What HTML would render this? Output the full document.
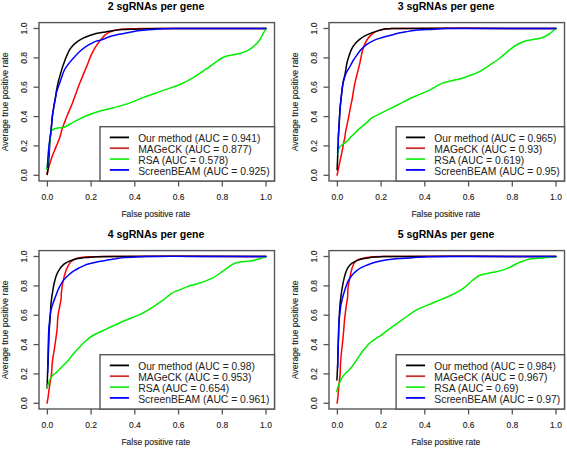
<!DOCTYPE html>
<html><head><meta charset="utf-8"><style>
html,body{margin:0;padding:0;background:#fff;}
svg{display:block;font-family:"Liberation Sans", sans-serif;}
</style></head><body>
<svg width="567" height="450" viewBox="0 0 567 450">
<rect width="567" height="450" fill="#fff"/>
<g transform="translate(0,0)">
<text x="156.0" y="10.2" text-anchor="middle" font-weight="bold" font-size="10.55" fill="#000">2 sgRNAs per gene</text>
<path d="M47.1,173.6 C47.1,173.6 47.7,171.2 48,170 C48.6,167.9 49.2,165.9 49.8,163.8 C50.6,161.1 51.4,158.4 52.4,155.8 C53.5,152.8 54.8,149.9 56,146.9 C57.2,143.9 58.6,141 59.6,138 C60.5,135.4 61,132.6 61.8,130 C62.5,127.6 63.4,125.3 64.3,123 C65.2,120.7 66,118.3 67,116 C68.5,112.4 70.1,108.9 71.6,105.3 C72.4,103.3 73.1,101.2 73.9,99.1 C75,96.1 76,93.2 77.1,90.2 C78.2,87.2 79.3,84.2 80.5,81.3 C81.7,78.3 83,75.4 84.2,72.4 C85.4,69.6 86.6,66.8 87.7,64 C88.6,61.6 89.4,59.2 90.4,56.9 C91.4,54.5 92.5,52.1 93.8,49.8 C94.8,47.9 96.1,46.2 97.3,44.4 C98.4,42.8 99.6,41.2 100.9,39.6 C102,38.2 103.1,36.8 104.4,35.6 C105.5,34.6 106.7,33.6 108,32.9 C109.4,32.1 110.9,31.6 112.4,31.1 C114.2,30.5 116,30.1 117.8,29.8 C119.8,29.4 121.9,29 124,28.9 C129.3,28.6 134.7,28.7 140,28.6 C150,28.5 160,28.5 170,28.4 C202,28.4 266,28.4 266,28.4" fill="none" stroke="#ff0000" stroke-width="1.5" stroke-linejoin="round" stroke-linecap="round"/>
<path d="M47.2,174.5 C47.2,174.5 47.5,172.7 47.6,171.8 C47.8,169.9 48,167.9 48.2,166 C48.5,163 48.8,160 49,157 C49.3,153.5 49.4,150 49.6,146.5 C49.8,143.7 50,140.8 50.2,138 C50.3,136.5 50.5,135.1 50.7,133.6 C51,130.6 51.3,127.7 51.6,124.7 C51.9,121.7 52,118.8 52.4,115.8 C52.8,112.8 53.3,109.9 53.8,106.9 C54.3,104 54.8,101.1 55.3,98.2 C55.8,95.5 56.1,92.7 56.6,90 C57.1,87.4 57.6,84.8 58.2,82.2 C58.8,79.5 59.6,76.9 60.4,74.2 C61.1,71.8 61.8,69.5 62.5,67.1 C63,65.7 63.5,64.3 64,62.9 C64.9,60.5 65.7,58.1 66.7,55.8 C67.5,54 68.3,52.1 69.3,50.4 C70.3,48.7 71.6,47.1 72.9,45.6 C74.2,44.1 75.7,42.8 77.3,41.6 C79,40.4 80.8,39.3 82.7,38.4 C84.7,37.4 86.8,36.6 88.9,35.8 C91.2,35 93.6,34.2 96,33.6 C99.1,32.9 102.2,32.5 105.3,32 C107.7,31.6 110,31.1 112.4,30.7 C114.8,30.3 117.2,30 119.6,29.8 C121.1,29.6 122.5,29.6 124,29.5 C129.3,29.3 134.7,29 140,28.9 C146.7,28.7 153.3,28.6 160,28.6 C195.3,28.5 266,28.4 266,28.4" fill="none" stroke="#000000" stroke-width="1.5" stroke-linejoin="round" stroke-linecap="round"/>
<path d="M46.8,169.2 C46.8,169.2 47.3,167.1 47.4,166 C47.7,163 47.9,160 48.2,157 C48.5,153.3 48.8,149.7 49.2,146 C49.5,143.3 49.9,140.7 50.2,138 C50.5,135.6 51.1,130.9 51.1,130.9 C51.1,130.9 53.4,129.2 54.7,128.7 C56.1,128.2 57.6,128 59.1,127.8 C60.8,127.5 62.6,127.8 64.1,127.2 C67.5,125.8 70.7,123.5 74,121.8 C77.7,119.9 81.4,117.8 85.3,116.2 C89.9,114.3 94.6,112.6 99.4,111.2 C104,109.8 108.8,109 113.5,107.7 C119,106.2 124.6,104.7 130,102.9 C134.2,101.5 138.2,99.5 142.3,97.9 C146.4,96.3 150.6,95 154.7,93.5 C158.8,92 162.9,90.5 167,89.1 C170.5,87.9 174.1,86.9 177.6,85.5 C181,84.1 184.4,82.6 187.6,80.9 C191.2,78.9 194.7,76.6 198.2,74.4 C201.8,72.1 205.2,69.7 208.7,67.3 C211.7,65.2 214.5,62.8 217.6,60.8 C219.8,59.3 222.1,57.8 224.6,56.8 C226.8,55.9 229.3,55.5 231.7,55 C234.6,54.3 237.6,54 240.5,53.2 C242.9,52.5 245.3,51.7 247.5,50.6 C249.4,49.7 251.1,48.4 252.8,47.1 C254.1,46.1 255.3,45 256.4,43.8 C257.4,42.8 258.3,41.8 259.1,40.7 C260.1,39.3 260.9,37.7 261.8,36.2 C262.4,35.1 262.9,33.8 263.6,32.7 C264.3,31.6 265.1,30.5 265.8,29.4 C266,29.1 266.1,28.4 266.1,28.4" fill="none" stroke="#00ee00" stroke-width="1.5" stroke-linejoin="round" stroke-linecap="round"/>
<path d="M47.4,167.3 C47.4,167.3 47.8,160.8 48,157.6 C48.3,154 48.5,150.5 48.9,146.9 C49.2,143.9 49.6,141 50,138 C50.2,136.5 50.5,135.1 50.7,133.6 C51.1,130.6 51.3,127.7 51.6,124.7 C51.9,121.7 52,118.8 52.4,115.8 C52.8,112.8 53.3,109.9 53.8,106.9 C54.3,104.3 54.8,101.6 55.3,99 C55.7,97 55.9,94.9 56.4,92.9 C57,90.5 57.9,88.2 58.7,85.8 C59.4,83.7 60.2,81.7 60.9,79.6 C62.1,76.4 62.9,73 64.4,70 C65.7,67.5 67.5,65.2 69.3,62.9 C71,60.7 72.8,58.7 74.7,56.7 C76.4,54.8 78.1,53 80,51.3 C82,49.5 84,47.9 86.2,46.4 C87.9,45.2 89.8,44.3 91.6,43.3 C93,42.5 94.5,41.6 96,41.1 C97.3,40.6 98.7,40.7 100,40.3 C102.1,39.7 104.1,38.8 106.2,38 C108.3,37.3 110.3,36.4 112.4,35.8 C114.2,35.3 116,35 117.8,34.6 C119.9,34.2 121.9,33.8 124,33.4 C128.6,32.5 133.2,31.3 137.8,30.7 C143.7,29.9 149.7,29.6 155.6,29.2 C161.5,28.8 167.4,28.6 173.3,28.5 C182.2,28.3 191.1,28.4 200,28.4 C222,28.4 266,28.4 266,28.4" fill="none" stroke="#0000ff" stroke-width="1.5" stroke-linejoin="round" stroke-linecap="round"/>
<rect x="39.0" y="22.6" width="235.5" height="158.4" fill="none" stroke="#555555" stroke-width="1.4"/>
<line x1="47.4" y1="181.0" x2="47.4" y2="186.5" stroke="#555555" stroke-width="1.3"/>
<text transform="translate(47.4,200.3) scale(1,1.13)" text-anchor="middle" font-size="8.5" fill="#222222" stroke="#222222" stroke-width="0.12">0.0</text>
<line x1="91.1" y1="181.0" x2="91.1" y2="186.5" stroke="#555555" stroke-width="1.3"/>
<text transform="translate(91.1,200.3) scale(1,1.13)" text-anchor="middle" font-size="8.5" fill="#222222" stroke="#222222" stroke-width="0.12">0.2</text>
<line x1="134.8" y1="181.0" x2="134.8" y2="186.5" stroke="#555555" stroke-width="1.3"/>
<text transform="translate(134.8,200.3) scale(1,1.13)" text-anchor="middle" font-size="8.5" fill="#222222" stroke="#222222" stroke-width="0.12">0.4</text>
<line x1="178.6" y1="181.0" x2="178.6" y2="186.5" stroke="#555555" stroke-width="1.3"/>
<text transform="translate(178.6,200.3) scale(1,1.13)" text-anchor="middle" font-size="8.5" fill="#222222" stroke="#222222" stroke-width="0.12">0.6</text>
<line x1="222.3" y1="181.0" x2="222.3" y2="186.5" stroke="#555555" stroke-width="1.3"/>
<text transform="translate(222.3,200.3) scale(1,1.13)" text-anchor="middle" font-size="8.5" fill="#222222" stroke="#222222" stroke-width="0.12">0.8</text>
<line x1="266.0" y1="181.0" x2="266.0" y2="186.5" stroke="#555555" stroke-width="1.3"/>
<text transform="translate(266.0,200.3) scale(1,1.13)" text-anchor="middle" font-size="8.5" fill="#222222" stroke="#222222" stroke-width="0.12">1.0</text>
<line x1="33.5" y1="175.3" x2="39.0" y2="175.3" stroke="#555555" stroke-width="1.3"/>
<text transform="translate(26.6,175.3) rotate(-90) scale(1,1.13)" x="0" y="0" text-anchor="middle" font-size="8.5" fill="#222222" stroke="#222222" stroke-width="0.12">0.0</text>
<line x1="33.5" y1="145.9" x2="39.0" y2="145.9" stroke="#555555" stroke-width="1.3"/>
<text transform="translate(26.6,145.9) rotate(-90) scale(1,1.13)" x="0" y="0" text-anchor="middle" font-size="8.5" fill="#222222" stroke="#222222" stroke-width="0.12">0.2</text>
<line x1="33.5" y1="116.6" x2="39.0" y2="116.6" stroke="#555555" stroke-width="1.3"/>
<text transform="translate(26.6,116.6) rotate(-90) scale(1,1.13)" x="0" y="0" text-anchor="middle" font-size="8.5" fill="#222222" stroke="#222222" stroke-width="0.12">0.4</text>
<line x1="33.5" y1="87.2" x2="39.0" y2="87.2" stroke="#555555" stroke-width="1.3"/>
<text transform="translate(26.6,87.2) rotate(-90) scale(1,1.13)" x="0" y="0" text-anchor="middle" font-size="8.5" fill="#222222" stroke="#222222" stroke-width="0.12">0.6</text>
<line x1="33.5" y1="57.9" x2="39.0" y2="57.9" stroke="#555555" stroke-width="1.3"/>
<text transform="translate(26.6,57.9) rotate(-90) scale(1,1.13)" x="0" y="0" text-anchor="middle" font-size="8.5" fill="#222222" stroke="#222222" stroke-width="0.12">0.8</text>
<line x1="33.5" y1="28.5" x2="39.0" y2="28.5" stroke="#555555" stroke-width="1.3"/>
<text transform="translate(26.6,28.5) rotate(-90) scale(1,1.13)" x="0" y="0" text-anchor="middle" font-size="8.5" fill="#222222" stroke="#222222" stroke-width="0.12">1.0</text>
<text transform="translate(155.8,216.8) scale(1,1.13)" text-anchor="middle" font-size="8.5" fill="#222222" stroke="#222222" stroke-width="0.12">False positive rate</text>
<text transform="translate(8.0,101.9) rotate(-90) scale(1,1.13)" x="0" y="0" text-anchor="middle" font-size="8.7" fill="#222222" stroke="#222222" stroke-width="0.12">Average true positive rate</text>
<rect x="100.0" y="126.7" width="174.5" height="54.3" fill="#fff" stroke="#555555" stroke-width="1.4"/>
<line x1="109.8" y1="137.4" x2="129.0" y2="137.4" stroke="#000000" stroke-width="1.8"/>
<text x="138.2" y="142.1" font-size="10.1" textLength="122.11" lengthAdjust="spacingAndGlyphs" fill="#222222">Our method (AUC = 0.941)</text>
<line x1="109.8" y1="148.2" x2="129.0" y2="148.2" stroke="#c83030" stroke-width="1.8"/>
<text x="138.2" y="152.9" font-size="10.1" textLength="113.53" lengthAdjust="spacingAndGlyphs" fill="#222222">MAGeCK (AUC = 0.877)</text>
<line x1="109.8" y1="159.1" x2="129.0" y2="159.1" stroke="#22ee22" stroke-width="1.8"/>
<text x="138.2" y="163.8" font-size="10.1" textLength="90.01" lengthAdjust="spacingAndGlyphs" fill="#222222">RSA (AUC = 0.578)</text>
<line x1="109.8" y1="169.9" x2="129.0" y2="169.9" stroke="#0000ff" stroke-width="1.8"/>
<text x="138.2" y="174.6" font-size="10.1" textLength="131.4" lengthAdjust="spacingAndGlyphs" fill="#222222">ScreenBEAM (AUC = 0.925)</text>
</g>
<g transform="translate(290,0)">
<text x="156.0" y="10.2" text-anchor="middle" font-weight="bold" font-size="10.55" fill="#000">3 sgRNAs per gene</text>
<path d="M47.1,175.1 C47.1,175.1 48,171 48.4,168.9 C48.9,166.5 49.3,164.2 49.8,161.8 C50.4,159.1 51,156.5 51.6,153.8 C52.2,150.8 52.7,147.9 53.3,144.9 C53.8,142.3 54.4,139.6 54.9,137 C55.2,135.3 55.3,133.5 55.6,131.8 C56,129.7 56.5,127.7 56.9,125.6 C57.3,123.5 57.8,121.4 58.2,119.3 C58.7,116.9 59.1,114.6 59.6,112.2 C60,109.8 60.4,107.5 60.9,105.1 C61.3,103.1 61.8,101 62.2,99 C62.5,97.3 62.7,95.5 63,93.8 C63.3,91.7 63.6,89.7 64,87.6 C64.4,85.5 64.8,83.4 65.3,81.3 C65.9,78.9 66.5,76.6 67.1,74.2 C67.7,71.8 68.3,69.5 68.9,67.1 C69.5,64.7 70,62.4 70.5,60 C71.2,56.9 71.6,53.7 72.4,50.7 C73,48.5 73.8,46.5 74.7,44.4 C75.3,42.9 76,41.4 76.9,40 C77.9,38.4 79.1,36.9 80.4,35.6 C81.5,34.5 82.7,33.5 84,32.7 C85.6,31.7 87.5,31 89.3,30.4 C91.1,29.8 92.9,29.2 94.7,28.9 C97,28.6 99.4,28.7 101.8,28.6 C104.8,28.5 107.7,28.4 110.7,28.4 C162.5,28.3 266,28.4 266,28.4" fill="none" stroke="#ff0000" stroke-width="1.5" stroke-linejoin="round" stroke-linecap="round"/>
<path d="M47.1,169.8 C47.1,169.8 47.4,163.9 47.5,161 C47.6,158.3 47.7,155.6 47.8,152.9 C47.9,150.2 48.1,147.6 48.2,144.9 C48.3,141.9 48.3,139 48.4,136 C48.6,132.2 48.9,128.5 49.1,124.7 C49.3,121.7 49.4,118.8 49.6,115.8 C49.8,112.8 50,109.9 50.2,106.9 C50.4,104.6 50.7,102.3 50.9,100 C51.1,97.9 51.4,95.9 51.6,93.8 C51.9,91.4 52.1,89.1 52.4,86.7 C52.7,84.6 53.1,82.5 53.5,80.4 C53.9,78.4 54.6,76.5 55,74.5 C55.5,72 55.8,69.5 56.2,67 C56.5,65.3 56.8,63.6 57.2,62 C57.7,60 58.3,58.1 58.9,56.2 C59.7,53.8 60.5,51.4 61.6,49.1 C62.5,47.2 63.8,45.4 65.1,43.8 C66.4,42.2 68,40.6 69.6,39.3 C71.2,38 73,36.8 74.9,35.8 C76.9,34.7 79,33.9 81.1,33.1 C83.1,32.3 85.2,31.5 87.3,30.9 C89.7,30.1 92.2,29.3 94.7,28.9 C97,28.5 99.4,28.7 101.8,28.6 C104.8,28.5 107.7,28.4 110.7,28.4 C162.5,28.3 266,28.4 266,28.4" fill="none" stroke="#000000" stroke-width="1.5" stroke-linejoin="round" stroke-linecap="round"/>
<path d="M47.6,153.5 C47.6,153.5 47.9,152.5 48,152 C48.3,150.7 48.3,149.1 49,148 C49.8,146.7 51.1,145.7 52.3,144.7 C54,143.2 56.1,142.1 57.8,140.6 C58.7,139.8 59.2,138.7 60,137.8 C61.3,136.5 62.7,135.3 64,134 C65.5,132.5 66.9,130.8 68.5,129.4 C70.7,127.4 73.2,125.6 75.5,123.7 C77.9,121.6 80,119.2 82.6,117.4 C84.7,115.9 87.3,115.1 89.6,113.9 C92.9,112.2 96.2,110.6 99.5,108.9 C102.8,107.3 106.1,105.7 109.4,104 C113.1,102.1 116.8,100.1 120.6,98.3 C123.8,96.8 127.2,95.5 130.5,94.1 C133.7,92.7 136.9,91.4 140,89.9 C144.4,87.7 148.4,84.8 152.9,82.9 C155.7,81.7 158.8,81.5 161.7,80.8 C165.2,79.9 168.8,79.2 172.3,78.2 C175.3,77.3 178.2,76.1 181.1,75 C183.6,74.1 186.2,73.3 188.5,72.1 C191.9,70.4 195,68.2 198.2,66.1 C201.7,63.8 205.3,61.5 208.7,59 C212.4,56.2 215.7,53 219.3,50.2 C222.1,48 225,45.7 228.1,44 C230.9,42.5 233.9,41.3 237,40.5 C239.8,39.7 242.9,39.7 245.8,39.1 C248.2,38.7 250.6,38.4 252.8,37.5 C255.3,36.5 257.6,35 259.9,33.5 C261.2,32.6 262.3,31.5 263.5,30.5 C264.3,29.8 266,28.4 266,28.4" fill="none" stroke="#00ee00" stroke-width="1.5" stroke-linejoin="round" stroke-linecap="round"/>
<path d="M47.6,152.9 C47.6,152.9 48.1,147.6 48.2,144.9 C48.3,141.9 48.3,139 48.4,136 C48.6,132.2 48.9,128.5 49.1,124.7 C49.3,121.7 49.4,118.8 49.6,115.8 C49.8,112.8 50,109.9 50.2,106.9 C50.4,104.6 50.7,102.3 50.9,100 C51.1,97.9 51.4,95.9 51.6,93.8 C51.9,91.7 52.1,89.7 52.4,87.6 C52.7,85.8 52.9,84 53.3,82.2 C53.7,80.4 54.1,78.6 54.7,76.9 C55.2,75.4 55.7,73.8 56.4,72.4 C57.5,70.2 59,68.2 60.2,66 C61.2,64.2 62.1,62.3 63.2,60.5 C63.9,59.3 64.8,58.1 65.6,56.9 C67.3,54.5 68.9,52 70.8,49.8 C72.6,47.8 74.6,46 76.8,44.4 C79,42.8 81.5,41.6 84,40.4 C85.7,39.6 87.5,39 89.3,38.4 C91.1,37.8 92.9,37.2 94.7,36.7 C97.1,36 99.4,35.5 101.8,34.9 C104.2,34.3 106.5,33.6 108.9,33.1 C111.2,32.6 113.6,32.2 116,31.8 C118.7,31.3 121.3,30.7 124,30.4 C128.6,29.9 133.2,29.9 137.8,29.6 C143.7,29.3 149.7,28.7 155.6,28.6 C170.4,28.3 185.2,28.4 200,28.4 C222,28.4 266,28.4 266,28.4" fill="none" stroke="#0000ff" stroke-width="1.5" stroke-linejoin="round" stroke-linecap="round"/>
<rect x="39.0" y="22.6" width="235.5" height="158.4" fill="none" stroke="#555555" stroke-width="1.4"/>
<line x1="47.4" y1="181.0" x2="47.4" y2="186.5" stroke="#555555" stroke-width="1.3"/>
<text transform="translate(47.4,200.3) scale(1,1.13)" text-anchor="middle" font-size="8.5" fill="#222222" stroke="#222222" stroke-width="0.12">0.0</text>
<line x1="91.1" y1="181.0" x2="91.1" y2="186.5" stroke="#555555" stroke-width="1.3"/>
<text transform="translate(91.1,200.3) scale(1,1.13)" text-anchor="middle" font-size="8.5" fill="#222222" stroke="#222222" stroke-width="0.12">0.2</text>
<line x1="134.8" y1="181.0" x2="134.8" y2="186.5" stroke="#555555" stroke-width="1.3"/>
<text transform="translate(134.8,200.3) scale(1,1.13)" text-anchor="middle" font-size="8.5" fill="#222222" stroke="#222222" stroke-width="0.12">0.4</text>
<line x1="178.6" y1="181.0" x2="178.6" y2="186.5" stroke="#555555" stroke-width="1.3"/>
<text transform="translate(178.6,200.3) scale(1,1.13)" text-anchor="middle" font-size="8.5" fill="#222222" stroke="#222222" stroke-width="0.12">0.6</text>
<line x1="222.3" y1="181.0" x2="222.3" y2="186.5" stroke="#555555" stroke-width="1.3"/>
<text transform="translate(222.3,200.3) scale(1,1.13)" text-anchor="middle" font-size="8.5" fill="#222222" stroke="#222222" stroke-width="0.12">0.8</text>
<line x1="266.0" y1="181.0" x2="266.0" y2="186.5" stroke="#555555" stroke-width="1.3"/>
<text transform="translate(266.0,200.3) scale(1,1.13)" text-anchor="middle" font-size="8.5" fill="#222222" stroke="#222222" stroke-width="0.12">1.0</text>
<line x1="33.5" y1="175.3" x2="39.0" y2="175.3" stroke="#555555" stroke-width="1.3"/>
<text transform="translate(26.6,175.3) rotate(-90) scale(1,1.13)" x="0" y="0" text-anchor="middle" font-size="8.5" fill="#222222" stroke="#222222" stroke-width="0.12">0.0</text>
<line x1="33.5" y1="145.9" x2="39.0" y2="145.9" stroke="#555555" stroke-width="1.3"/>
<text transform="translate(26.6,145.9) rotate(-90) scale(1,1.13)" x="0" y="0" text-anchor="middle" font-size="8.5" fill="#222222" stroke="#222222" stroke-width="0.12">0.2</text>
<line x1="33.5" y1="116.6" x2="39.0" y2="116.6" stroke="#555555" stroke-width="1.3"/>
<text transform="translate(26.6,116.6) rotate(-90) scale(1,1.13)" x="0" y="0" text-anchor="middle" font-size="8.5" fill="#222222" stroke="#222222" stroke-width="0.12">0.4</text>
<line x1="33.5" y1="87.2" x2="39.0" y2="87.2" stroke="#555555" stroke-width="1.3"/>
<text transform="translate(26.6,87.2) rotate(-90) scale(1,1.13)" x="0" y="0" text-anchor="middle" font-size="8.5" fill="#222222" stroke="#222222" stroke-width="0.12">0.6</text>
<line x1="33.5" y1="57.9" x2="39.0" y2="57.9" stroke="#555555" stroke-width="1.3"/>
<text transform="translate(26.6,57.9) rotate(-90) scale(1,1.13)" x="0" y="0" text-anchor="middle" font-size="8.5" fill="#222222" stroke="#222222" stroke-width="0.12">0.8</text>
<line x1="33.5" y1="28.5" x2="39.0" y2="28.5" stroke="#555555" stroke-width="1.3"/>
<text transform="translate(26.6,28.5) rotate(-90) scale(1,1.13)" x="0" y="0" text-anchor="middle" font-size="8.5" fill="#222222" stroke="#222222" stroke-width="0.12">1.0</text>
<text transform="translate(155.8,216.8) scale(1,1.13)" text-anchor="middle" font-size="8.5" fill="#222222" stroke="#222222" stroke-width="0.12">False positive rate</text>
<text transform="translate(8.0,101.9) rotate(-90) scale(1,1.13)" x="0" y="0" text-anchor="middle" font-size="8.7" fill="#222222" stroke="#222222" stroke-width="0.12">Average true positive rate</text>
<rect x="106.1" y="126.7" width="168.4" height="54.3" fill="#fff" stroke="#555555" stroke-width="1.4"/>
<line x1="115.9" y1="137.4" x2="135.1" y2="137.4" stroke="#000000" stroke-width="1.8"/>
<text x="144.3" y="142.1" font-size="10.1" textLength="122.01" lengthAdjust="spacingAndGlyphs" fill="#222222">Our method (AUC = 0.965)</text>
<line x1="115.9" y1="148.2" x2="135.1" y2="148.2" stroke="#c83030" stroke-width="1.8"/>
<text x="144.3" y="152.9" font-size="10.1" textLength="108.02" lengthAdjust="spacingAndGlyphs" fill="#222222">MAGeCK (AUC = 0.93)</text>
<line x1="115.9" y1="159.1" x2="135.1" y2="159.1" stroke="#22ee22" stroke-width="1.8"/>
<text x="144.3" y="163.8" font-size="10.1" textLength="90.01" lengthAdjust="spacingAndGlyphs" fill="#222222">RSA (AUC = 0.619)</text>
<line x1="115.9" y1="169.9" x2="135.1" y2="169.9" stroke="#0000ff" stroke-width="1.8"/>
<text x="144.3" y="174.6" font-size="10.1" textLength="125.38" lengthAdjust="spacingAndGlyphs" fill="#222222">ScreenBEAM (AUC = 0.95)</text>
</g>
<g transform="translate(0,228)">
<text x="156.0" y="10.2" text-anchor="middle" font-weight="bold" font-size="10.55" fill="#000">4 sgRNAs per gene</text>
<path d="M47.1,175.1 C47.1,175.1 47.7,171.6 48,169.8 C48.3,167.4 48.6,165.1 48.9,162.7 C49.3,159.7 49.8,156.8 50.2,153.8 C50.7,150.8 51.3,147.9 51.6,144.9 C51.9,142.3 51.9,139.6 52.1,137 C52.2,135.3 52.4,133.5 52.6,131.8 C52.9,129.4 53.4,127.1 53.8,124.7 C54.3,121.7 54.7,118.8 55.1,115.8 C55.5,112.8 56,109.9 56.4,106.9 C56.7,104.6 57,102.3 57.2,100 C57.4,97.4 57.4,94.8 57.6,92.2 C57.8,89.8 58,87.5 58.4,85.1 C58.8,82.7 59.3,80.4 59.8,78 C60.2,75.6 60.8,73.3 61.1,70.9 C61.3,69.3 61.2,67.6 61.3,66 C61.5,63.3 61.8,60.6 62.2,58 C62.7,55 63.3,52 64,49.1 C64.6,46.7 65.3,44.3 66.2,42 C67.1,39.9 68,37.7 69.3,35.8 C70.2,34.4 71.5,33.1 72.9,32.2 C74.5,31.2 76.3,30.4 78.2,30 C81.4,29.3 84.7,29 88,28.8 C91.1,28.6 94.2,28.8 97.3,28.7 C101.8,28.6 106.2,28.4 110.7,28.4 C162.5,28.3 266,28.4 266,28.4" fill="none" stroke="#ff0000" stroke-width="1.5" stroke-linejoin="round" stroke-linecap="round"/>
<path d="M47.1,160 C47.1,160 47.3,153.3 47.4,150 C47.5,148.3 47.5,146.6 47.6,144.9 C47.7,141.9 47.9,139 48,136 C48.1,132.2 48.3,128.5 48.4,124.7 C48.6,120.2 48.7,115.8 48.9,111.3 C49,108.2 49,105.1 49.2,102 C49.3,99.9 49.5,97.9 49.7,95.8 C49.9,93.4 50,91.1 50.2,88.7 C50.3,86.6 50.5,84.5 50.6,82.4 C50.7,80.3 50.7,78.3 50.9,76.2 C51.1,73.8 51.5,71.5 51.8,69.1 C52,67.4 52.3,65.7 52.6,64 C53.1,61.1 53.5,58.2 54.2,55.3 C54.8,52.6 55.4,49.9 56.4,47.3 C57.2,45.1 58.3,43 59.6,41.1 C60.8,39.3 62.3,37.6 64,36.2 C65.6,34.9 67.4,33.9 69.3,33.1 C71,32.3 72.9,31.8 74.7,31.3 C77,30.7 79.4,30.3 81.8,30 C83.9,29.7 85.9,29.6 88,29.4 C91.1,29.1 94.2,28.8 97.3,28.7 C101.8,28.5 106.2,28.4 110.7,28.4 C162.5,28.3 266,28.4 266,28.4" fill="none" stroke="#000000" stroke-width="1.5" stroke-linejoin="round" stroke-linecap="round"/>
<path d="M47.1,160 C47.1,160 47.9,156.6 48.5,155 C49.1,153.3 49.8,151.6 50.7,150 C51.3,148.9 52.1,147.9 53,147 C53.9,146.1 55.1,145.6 56,144.7 C58.3,142.6 60.5,140.2 62.7,138 C64.5,136.2 66.3,134.6 68,132.7 C69.7,130.8 71.1,128.6 72.7,126.7 C74.6,124.4 76.6,122.2 78.7,120 C80.8,117.7 83,115.4 85.3,113.3 C87.4,111.4 89.6,109.5 92,108 C95.4,105.9 99.1,104.4 102.7,102.7 C104.6,101.8 106.6,100.9 108.5,100 C112.3,98.2 116.1,96.4 120,94.7 C123.5,93.1 127.1,91.7 130.7,90.2 C134.2,88.7 137.9,87.5 141.3,85.8 C145,84 148.5,81.8 152,79.6 C155.6,77.3 159.2,74.9 162.7,72.4 C165.8,70.2 168.5,67.4 171.6,65.3 C173.2,64.2 175.2,63.7 177,62.9 C180.5,61.4 184,59.9 187.6,58.6 C191.1,57.4 194.7,56.7 198.2,55.5 C203,53.9 207.8,52.4 212.3,50.2 C216.1,48.3 219.4,45.6 222.9,43.2 C226.4,40.8 229.7,37.9 233.4,35.8 C235,34.9 236.9,34.6 238.7,34.3 C242.8,33.6 247,33.6 251.1,32.9 C254.1,32.4 257,31.7 259.9,30.8 C261.9,30.2 265.8,28.4 265.8,28.4" fill="none" stroke="#00ee00" stroke-width="1.5" stroke-linejoin="round" stroke-linecap="round"/>
<path d="M47.6,144.4 C47.6,144.4 47.7,140.1 47.8,138 C47.9,133.6 48,129.1 48.1,124.7 C48.2,120.2 48.3,115.8 48.4,111.3 C48.5,107.5 48.7,103.8 48.9,100 C49,98.6 49.2,97.2 49.3,95.8 C49.5,93.4 49.7,91.1 50,88.7 C50.3,86.6 50.5,84.5 50.9,82.4 C51.4,80.3 52,78.2 52.7,76.2 C53.5,73.8 54.4,71.5 55.3,69.1 C56.2,66.7 57,64.3 58,62 C58.6,60.6 59.2,59.1 60,57.8 C61.2,55.7 62.5,53.5 64,51.6 C65.4,49.8 67.2,48.2 68.9,46.7 C70.6,45.2 72.4,43.9 74.2,42.7 C75.9,41.6 77.8,40.6 79.6,39.6 C81,38.9 82.5,38.2 84,37.6 C85.7,36.9 87.5,36.3 89.3,35.8 C91.1,35.3 92.9,34.8 94.7,34.4 C97.1,33.9 99.4,33.5 101.8,33.1 C104.2,32.7 106.5,32.2 108.9,31.8 C111.3,31.4 113.6,31 116,30.7 C118.7,30.3 121.3,29.9 124,29.6 C126.2,29.4 128.5,29.3 130.7,29.2 C136,28.9 141.4,28.6 146.7,28.5 C164.5,28.3 182.2,28.4 200,28.4 C222,28.4 266,28.4 266,28.4" fill="none" stroke="#0000ff" stroke-width="1.5" stroke-linejoin="round" stroke-linecap="round"/>
<rect x="39.0" y="22.6" width="235.5" height="158.4" fill="none" stroke="#555555" stroke-width="1.4"/>
<line x1="47.4" y1="181.0" x2="47.4" y2="186.5" stroke="#555555" stroke-width="1.3"/>
<text transform="translate(47.4,200.3) scale(1,1.13)" text-anchor="middle" font-size="8.5" fill="#222222" stroke="#222222" stroke-width="0.12">0.0</text>
<line x1="91.1" y1="181.0" x2="91.1" y2="186.5" stroke="#555555" stroke-width="1.3"/>
<text transform="translate(91.1,200.3) scale(1,1.13)" text-anchor="middle" font-size="8.5" fill="#222222" stroke="#222222" stroke-width="0.12">0.2</text>
<line x1="134.8" y1="181.0" x2="134.8" y2="186.5" stroke="#555555" stroke-width="1.3"/>
<text transform="translate(134.8,200.3) scale(1,1.13)" text-anchor="middle" font-size="8.5" fill="#222222" stroke="#222222" stroke-width="0.12">0.4</text>
<line x1="178.6" y1="181.0" x2="178.6" y2="186.5" stroke="#555555" stroke-width="1.3"/>
<text transform="translate(178.6,200.3) scale(1,1.13)" text-anchor="middle" font-size="8.5" fill="#222222" stroke="#222222" stroke-width="0.12">0.6</text>
<line x1="222.3" y1="181.0" x2="222.3" y2="186.5" stroke="#555555" stroke-width="1.3"/>
<text transform="translate(222.3,200.3) scale(1,1.13)" text-anchor="middle" font-size="8.5" fill="#222222" stroke="#222222" stroke-width="0.12">0.8</text>
<line x1="266.0" y1="181.0" x2="266.0" y2="186.5" stroke="#555555" stroke-width="1.3"/>
<text transform="translate(266.0,200.3) scale(1,1.13)" text-anchor="middle" font-size="8.5" fill="#222222" stroke="#222222" stroke-width="0.12">1.0</text>
<line x1="33.5" y1="175.3" x2="39.0" y2="175.3" stroke="#555555" stroke-width="1.3"/>
<text transform="translate(26.6,175.3) rotate(-90) scale(1,1.13)" x="0" y="0" text-anchor="middle" font-size="8.5" fill="#222222" stroke="#222222" stroke-width="0.12">0.0</text>
<line x1="33.5" y1="145.9" x2="39.0" y2="145.9" stroke="#555555" stroke-width="1.3"/>
<text transform="translate(26.6,145.9) rotate(-90) scale(1,1.13)" x="0" y="0" text-anchor="middle" font-size="8.5" fill="#222222" stroke="#222222" stroke-width="0.12">0.2</text>
<line x1="33.5" y1="116.6" x2="39.0" y2="116.6" stroke="#555555" stroke-width="1.3"/>
<text transform="translate(26.6,116.6) rotate(-90) scale(1,1.13)" x="0" y="0" text-anchor="middle" font-size="8.5" fill="#222222" stroke="#222222" stroke-width="0.12">0.4</text>
<line x1="33.5" y1="87.2" x2="39.0" y2="87.2" stroke="#555555" stroke-width="1.3"/>
<text transform="translate(26.6,87.2) rotate(-90) scale(1,1.13)" x="0" y="0" text-anchor="middle" font-size="8.5" fill="#222222" stroke="#222222" stroke-width="0.12">0.6</text>
<line x1="33.5" y1="57.9" x2="39.0" y2="57.9" stroke="#555555" stroke-width="1.3"/>
<text transform="translate(26.6,57.9) rotate(-90) scale(1,1.13)" x="0" y="0" text-anchor="middle" font-size="8.5" fill="#222222" stroke="#222222" stroke-width="0.12">0.8</text>
<line x1="33.5" y1="28.5" x2="39.0" y2="28.5" stroke="#555555" stroke-width="1.3"/>
<text transform="translate(26.6,28.5) rotate(-90) scale(1,1.13)" x="0" y="0" text-anchor="middle" font-size="8.5" fill="#222222" stroke="#222222" stroke-width="0.12">1.0</text>
<text transform="translate(155.8,216.8) scale(1,1.13)" text-anchor="middle" font-size="8.5" fill="#222222" stroke="#222222" stroke-width="0.12">False positive rate</text>
<text transform="translate(8.0,101.9) rotate(-90) scale(1,1.13)" x="0" y="0" text-anchor="middle" font-size="8.7" fill="#222222" stroke="#222222" stroke-width="0.12">Average true positive rate</text>
<rect x="100.0" y="126.7" width="174.5" height="54.3" fill="#fff" stroke="#555555" stroke-width="1.4"/>
<line x1="109.8" y1="137.4" x2="129.0" y2="137.4" stroke="#000000" stroke-width="1.8"/>
<text x="138.2" y="142.1" font-size="10.1" textLength="116.6" lengthAdjust="spacingAndGlyphs" fill="#222222">Our method (AUC = 0.98)</text>
<line x1="109.8" y1="148.2" x2="129.0" y2="148.2" stroke="#c83030" stroke-width="1.8"/>
<text x="138.2" y="152.9" font-size="10.1" textLength="113.23" lengthAdjust="spacingAndGlyphs" fill="#222222">MAGeCK (AUC = 0.953)</text>
<line x1="109.8" y1="159.1" x2="129.0" y2="159.1" stroke="#22ee22" stroke-width="1.8"/>
<text x="138.2" y="163.8" font-size="10.1" textLength="91.11" lengthAdjust="spacingAndGlyphs" fill="#222222">RSA (AUC = 0.654)</text>
<line x1="109.8" y1="169.9" x2="129.0" y2="169.9" stroke="#0000ff" stroke-width="1.8"/>
<text x="138.2" y="174.6" font-size="10.1" textLength="131.2" lengthAdjust="spacingAndGlyphs" fill="#222222">ScreenBEAM (AUC = 0.961)</text>
</g>
<g transform="translate(290,228)">
<text x="156.0" y="10.2" text-anchor="middle" font-weight="bold" font-size="10.55" fill="#000">5 sgRNAs per gene</text>
<path d="M47.1,175.1 C47.1,175.1 47.6,171.6 47.8,169.8 C48,167.4 48.2,165.1 48.4,162.7 C48.7,159.7 49,156.8 49.3,153.8 C49.6,150.8 50,147.9 50.2,144.9 C50.4,141.6 50.3,138.3 50.5,135 C50.7,131.6 51.1,128.1 51.4,124.7 C51.7,121.7 52.1,118.8 52.4,115.8 C52.7,112.8 53,109.9 53.3,106.9 C53.5,104.6 53.7,102.3 53.9,100 C54.1,97.7 54.2,95.4 54.4,93.1 C54.7,90.4 55,87.8 55.3,85.1 C55.6,82.7 55.9,80.4 56.2,78 C56.6,75 57.3,72.1 57.6,69.1 C57.8,67.1 57.7,65 57.8,63 C57.9,61 58.1,59 58.4,57.1 C58.9,54.1 59.6,51.2 60.2,48.2 C60.8,45.5 61.2,42.8 62,40.2 C62.7,38.2 63.4,36 64.7,34.4 C65.8,33 67.5,32 69.1,31.3 C70.7,30.6 72.6,30.3 74.4,30 C77.3,29.5 80.3,29.1 83.3,28.8 C86.6,28.5 90,28.4 93.3,28.4 C150.9,28.3 266,28.4 266,28.4" fill="none" stroke="#ff0000" stroke-width="1.5" stroke-linejoin="round" stroke-linecap="round"/>
<path d="M46.9,152 C46.9,152 47.2,146.7 47.3,144 C47.4,142 47.5,140 47.6,138 C47.8,133.6 47.9,129.1 48,124.7 C48.1,120.2 48.3,115.8 48.4,111.3 C48.5,107.5 48.6,103.8 48.7,100 C48.8,97.7 48.9,95.3 49,93 C49.2,90 49.3,87 49.5,84 C49.7,81.4 49.8,78.8 50,76.2 C50.2,73.8 50.6,71.5 50.9,69.1 C51.1,67.2 51.3,65.4 51.6,63.5 C51.9,61.4 52.3,59.2 52.7,57.1 C53.2,54.4 53.7,51.7 54.4,49.1 C55,46.7 55.7,44.2 56.7,42 C57.6,40.1 58.8,38.2 60.2,36.7 C61.4,35.4 63.1,34.4 64.7,33.6 C66.7,32.6 68.8,31.9 70.9,31.3 C73.2,30.7 75.6,30.3 78,30 C80.7,29.6 83.3,29.3 86,29.1 C88.4,28.9 90.9,28.7 93.3,28.6 C102.2,28.4 111.1,28.4 120,28.4 C168.7,28.3 266,28.4 266,28.4" fill="none" stroke="#000000" stroke-width="1.5" stroke-linejoin="round" stroke-linecap="round"/>
<path d="M46.7,163.6 C46.7,163.6 47.5,160.6 48,159.1 C48.4,157.9 48.8,156.8 49.3,155.6 C50,153.8 50.7,151.9 51.6,150.2 C52.3,148.9 53.2,147.8 54.2,146.7 C55.3,145.4 56.6,144.3 57.8,143.1 C59,141.9 60.2,140.8 61.3,139.6 C62.2,138.6 62.9,137.5 63.6,136.4 C64.7,134.9 65.7,133.3 66.7,131.8 C68.5,129.2 70.1,126.5 72,124 C73.1,122.5 74.3,121.2 75.5,119.8 C76.6,118.5 77.5,117.1 78.7,116 C81.2,113.8 84,111.9 86.7,110 C87.7,109.3 89,108.7 90,108 C92.9,105.9 95.6,103.7 98.5,101.6 C101.7,99.2 105,96.9 108.3,94.6 C111.6,92.2 114.8,89.8 118.2,87.5 C121.4,85.3 124.7,83 128.1,81.2 C131.3,79.5 134.7,78.3 138,76.9 C142.7,74.9 147.4,73.1 152.1,71.1 C155.1,69.8 158.1,68.6 161,67.2 C163.4,66.1 165.9,65 168.2,63.7 C170.7,62.2 173.1,60.6 175.3,58.8 C177.8,56.9 179.9,54.5 182.3,52.5 C184.6,50.7 186.8,48.7 189.4,47.5 C191.5,46.5 194.1,46.2 196.4,45.7 C199.2,45.1 202.1,44.6 204.9,44 C207.7,43.4 210.6,42.8 213.3,41.9 C215.6,41.2 217.8,40.2 220,39.2 C223.3,37.7 226.5,35.7 229.9,34.3 C232.8,33.1 235.7,31.9 238.7,31.2 C241.6,30.6 244.6,30.6 247.5,30.3 C250.5,30 253.4,29.9 256.4,29.6 C258.5,29.4 260.7,29.2 262.8,28.9 C263.9,28.8 266,28.4 266,28.4" fill="none" stroke="#00ee00" stroke-width="1.5" stroke-linejoin="round" stroke-linecap="round"/>
<path d="M47.6,139.6 C47.6,139.6 47.7,137.2 47.7,136 C47.8,132.2 47.9,128.5 48,124.7 C48.1,120.2 48.3,115.8 48.4,111.3 C48.5,107.5 48.7,103.8 48.8,100 C48.9,97.7 48.9,95.4 49.1,93.1 C49.3,90.1 49.7,87.2 50,84.2 C50.3,81.8 50.5,79.4 50.9,77.1 C51.4,74.4 52.1,71.8 52.7,69.1 C53,68.1 53.3,67 53.6,66 C54.3,63.6 55,61.2 55.8,58.9 C56.6,56.8 57.3,54.7 58.4,52.7 C59.4,50.8 60.6,49 62,47.3 C63.3,45.7 64.8,44.2 66.4,42.9 C68.1,41.5 69.9,40.3 71.8,39.3 C73.8,38.2 75.9,37.5 78,36.7 C80.6,35.7 83.3,34.8 86,34 C88.3,33.4 90.6,32.9 92.9,32.5 C95.8,32 98.8,31.6 101.8,31.3 C104.8,31 107.7,30.8 110.7,30.6 C113.7,30.4 116.6,30.2 119.6,30 C121.1,29.9 122.5,29.7 124,29.6 C128.6,29.3 133.2,28.9 137.8,28.8 C145.2,28.6 152.6,28.5 160,28.5 C173.3,28.4 186.7,28.4 200,28.4 C222,28.4 266,28.4 266,28.4" fill="none" stroke="#0000ff" stroke-width="1.5" stroke-linejoin="round" stroke-linecap="round"/>
<rect x="39.0" y="22.6" width="235.5" height="158.4" fill="none" stroke="#555555" stroke-width="1.4"/>
<line x1="47.4" y1="181.0" x2="47.4" y2="186.5" stroke="#555555" stroke-width="1.3"/>
<text transform="translate(47.4,200.3) scale(1,1.13)" text-anchor="middle" font-size="8.5" fill="#222222" stroke="#222222" stroke-width="0.12">0.0</text>
<line x1="91.1" y1="181.0" x2="91.1" y2="186.5" stroke="#555555" stroke-width="1.3"/>
<text transform="translate(91.1,200.3) scale(1,1.13)" text-anchor="middle" font-size="8.5" fill="#222222" stroke="#222222" stroke-width="0.12">0.2</text>
<line x1="134.8" y1="181.0" x2="134.8" y2="186.5" stroke="#555555" stroke-width="1.3"/>
<text transform="translate(134.8,200.3) scale(1,1.13)" text-anchor="middle" font-size="8.5" fill="#222222" stroke="#222222" stroke-width="0.12">0.4</text>
<line x1="178.6" y1="181.0" x2="178.6" y2="186.5" stroke="#555555" stroke-width="1.3"/>
<text transform="translate(178.6,200.3) scale(1,1.13)" text-anchor="middle" font-size="8.5" fill="#222222" stroke="#222222" stroke-width="0.12">0.6</text>
<line x1="222.3" y1="181.0" x2="222.3" y2="186.5" stroke="#555555" stroke-width="1.3"/>
<text transform="translate(222.3,200.3) scale(1,1.13)" text-anchor="middle" font-size="8.5" fill="#222222" stroke="#222222" stroke-width="0.12">0.8</text>
<line x1="266.0" y1="181.0" x2="266.0" y2="186.5" stroke="#555555" stroke-width="1.3"/>
<text transform="translate(266.0,200.3) scale(1,1.13)" text-anchor="middle" font-size="8.5" fill="#222222" stroke="#222222" stroke-width="0.12">1.0</text>
<line x1="33.5" y1="175.3" x2="39.0" y2="175.3" stroke="#555555" stroke-width="1.3"/>
<text transform="translate(26.6,175.3) rotate(-90) scale(1,1.13)" x="0" y="0" text-anchor="middle" font-size="8.5" fill="#222222" stroke="#222222" stroke-width="0.12">0.0</text>
<line x1="33.5" y1="145.9" x2="39.0" y2="145.9" stroke="#555555" stroke-width="1.3"/>
<text transform="translate(26.6,145.9) rotate(-90) scale(1,1.13)" x="0" y="0" text-anchor="middle" font-size="8.5" fill="#222222" stroke="#222222" stroke-width="0.12">0.2</text>
<line x1="33.5" y1="116.6" x2="39.0" y2="116.6" stroke="#555555" stroke-width="1.3"/>
<text transform="translate(26.6,116.6) rotate(-90) scale(1,1.13)" x="0" y="0" text-anchor="middle" font-size="8.5" fill="#222222" stroke="#222222" stroke-width="0.12">0.4</text>
<line x1="33.5" y1="87.2" x2="39.0" y2="87.2" stroke="#555555" stroke-width="1.3"/>
<text transform="translate(26.6,87.2) rotate(-90) scale(1,1.13)" x="0" y="0" text-anchor="middle" font-size="8.5" fill="#222222" stroke="#222222" stroke-width="0.12">0.6</text>
<line x1="33.5" y1="57.9" x2="39.0" y2="57.9" stroke="#555555" stroke-width="1.3"/>
<text transform="translate(26.6,57.9) rotate(-90) scale(1,1.13)" x="0" y="0" text-anchor="middle" font-size="8.5" fill="#222222" stroke="#222222" stroke-width="0.12">0.8</text>
<line x1="33.5" y1="28.5" x2="39.0" y2="28.5" stroke="#555555" stroke-width="1.3"/>
<text transform="translate(26.6,28.5) rotate(-90) scale(1,1.13)" x="0" y="0" text-anchor="middle" font-size="8.5" fill="#222222" stroke="#222222" stroke-width="0.12">1.0</text>
<text transform="translate(155.8,216.8) scale(1,1.13)" text-anchor="middle" font-size="8.5" fill="#222222" stroke="#222222" stroke-width="0.12">False positive rate</text>
<text transform="translate(8.0,101.9) rotate(-90) scale(1,1.13)" x="0" y="0" text-anchor="middle" font-size="8.7" fill="#222222" stroke="#222222" stroke-width="0.12">Average true positive rate</text>
<rect x="106.1" y="126.7" width="168.4" height="54.3" fill="#fff" stroke="#555555" stroke-width="1.4"/>
<line x1="115.9" y1="137.4" x2="135.1" y2="137.4" stroke="#000000" stroke-width="1.8"/>
<text x="144.3" y="142.1" font-size="10.1" textLength="121.51" lengthAdjust="spacingAndGlyphs" fill="#222222">Our method (AUC = 0.984)</text>
<line x1="115.9" y1="148.2" x2="135.1" y2="148.2" stroke="#c83030" stroke-width="1.8"/>
<text x="144.3" y="152.9" font-size="10.1" textLength="113.23" lengthAdjust="spacingAndGlyphs" fill="#222222">MAGeCK (AUC = 0.967)</text>
<line x1="115.9" y1="159.1" x2="135.1" y2="159.1" stroke="#22ee22" stroke-width="1.8"/>
<text x="144.3" y="163.8" font-size="10.1" textLength="84.19" lengthAdjust="spacingAndGlyphs" fill="#222222">RSA (AUC = 0.69)</text>
<line x1="115.9" y1="169.9" x2="135.1" y2="169.9" stroke="#0000ff" stroke-width="1.8"/>
<text x="144.3" y="174.6" font-size="10.1" textLength="125.88" lengthAdjust="spacingAndGlyphs" fill="#222222">ScreenBEAM (AUC = 0.97)</text>
</g>
</svg>
</body></html>
